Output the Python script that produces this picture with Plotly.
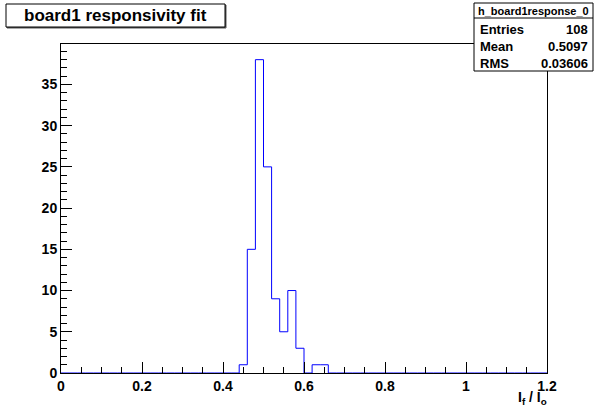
import plotly.graph_objects as go

# Histogram data (bin width 0.02 over 0 .. 1.2)
bin_lo = [round(i * 0.02, 2) for i in range(60)]
counts = [0]*22 + [1, 15, 38, 25, 9, 5, 10, 3, 0, 1, 1] + [0]*27
x_ticks = [0, 0.2, 0.4, 0.6, 0.8, 1, 1.2]
x_ticklabels = ["0", "0.2", "0.4", "0.6", "0.8", "1", "1.2"]
y_ticks = [0, 5, 10, 15, 20, 25, 30, 35]
title = "board1 responsivity fit"
stats_name = "h_board1response_0"
stats_rows = [("Entries", "108"), ("Mean", "0.5097"), ("RMS", "0.03606")]

xs = bin_lo + [1.2]
ys = counts + [counts[-1]]

W, H = 594, 409
L, R, T, B = 61, 547, 44, 373

def px(x):
    return (x - L) / (R - L)

def py(y):
    return (B - y) / (B - T)

fig = go.Figure()
fig.add_trace(go.Scatter(x=xs, y=ys, mode="lines", line=dict(color="#0000ff", width=1, shape="hv"),
                         hoverinfo="skip", showlegend=False))

font = "Liberation Sans, Arial, sans-serif"
fig.update_layout(
    width=W, height=H,
    margin=dict(l=L, r=W - R, t=T, b=H - B, pad=0),
    paper_bgcolor="white", plot_bgcolor="white",
    font=dict(family=font, color="black"),
    showlegend=False,
    xaxis=dict(range=[0, 1.2], tickvals=x_ticks, ticktext=["<b>%s</b>" % t for t in x_ticklabels],
               ticks="inside", ticklen=11, tickwidth=1, tickcolor="black",
               minor=dict(ticks="inside", dtick=0.05, ticklen=6, tickcolor="black", tickwidth=1),
               showline=True, linecolor="black", linewidth=1, mirror=True, showgrid=False, zeroline=False,
               tickfont=dict(size=14, family=font)),
    yaxis=dict(range=[0, 39.9], tickvals=y_ticks, ticktext=["<b>%d</b>" % t for t in y_ticks],
               ticks="inside", ticklen=11, tickwidth=1, tickcolor="black",
               minor=dict(ticks="inside", dtick=1, ticklen=6, tickcolor="black", tickwidth=1),
               showline=True, linecolor="black", linewidth=1, mirror=True, showgrid=False, zeroline=False,
               tickfont=dict(size=14, family=font)),
)

shapes = []
# title box with thin shadow
shapes.append(dict(type="rect", xref="paper", yref="paper", x0=px(7), x1=px(226), y0=py(28), y1=py(5),
                   line=dict(color="#555555", width=1), fillcolor="#555555", layer="above"))
shapes.append(dict(type="rect", xref="paper", yref="paper", x0=px(6), x1=px(225), y0=py(27), y1=py(4),
                   line=dict(color="black", width=1), fillcolor="white", layer="above"))
# stats box
shapes.append(dict(type="rect", xref="paper", yref="paper", x0=px(474), x1=px(593), y0=py(71), y1=py(3),
                   line=dict(color="black", width=1), fillcolor="white", layer="above"))
shapes.append(dict(type="line", xref="paper", yref="paper", x0=px(474), x1=px(593), y0=py(18), y1=py(18),
                   line=dict(color="black", width=1), layer="above"))
fig.update_layout(shapes=shapes)

ann = []
ann.append(dict(text="<b>%s</b>" % title, x=px(115.5), y=py(15.5), xref="paper", yref="paper",
                showarrow=False, xanchor="center", yanchor="middle", font=dict(size=17, family=font)))
ann.append(dict(text="<b>%s</b>" % stats_name, x=px(533.5), y=py(10.5), xref="paper", yref="paper",
                showarrow=False, xanchor="center", yanchor="middle", font=dict(size=11, family=font)))
for i, (k, v) in enumerate(stats_rows):
    yc = py(29.5 + i * 17)
    ann.append(dict(text="<b>%s</b>" % k, x=px(478), y=yc, xref="paper", yref="paper",
                    showarrow=False, xanchor="left", yanchor="middle", font=dict(size=13, family=font)))
    ann.append(dict(text="<b>%s</b>" % v, x=px(590), y=yc, xref="paper", yref="paper",
                    showarrow=False, xanchor="right", yanchor="middle", font=dict(size=13, family=font)))
ann.append(dict(text="<b>I<sub>f</sub> / I<sub>o</sub></b>", x=px(549), y=py(398), xref="paper", yref="paper",
                showarrow=False, xanchor="right", yanchor="middle", font=dict(size=14, family=font)))
fig.update_layout(annotations=ann)

fig.write_html("out.html", config={"displayModeBar": False},
               post_script="document.body.style.margin='0';document.body.style.overflow='hidden';")
